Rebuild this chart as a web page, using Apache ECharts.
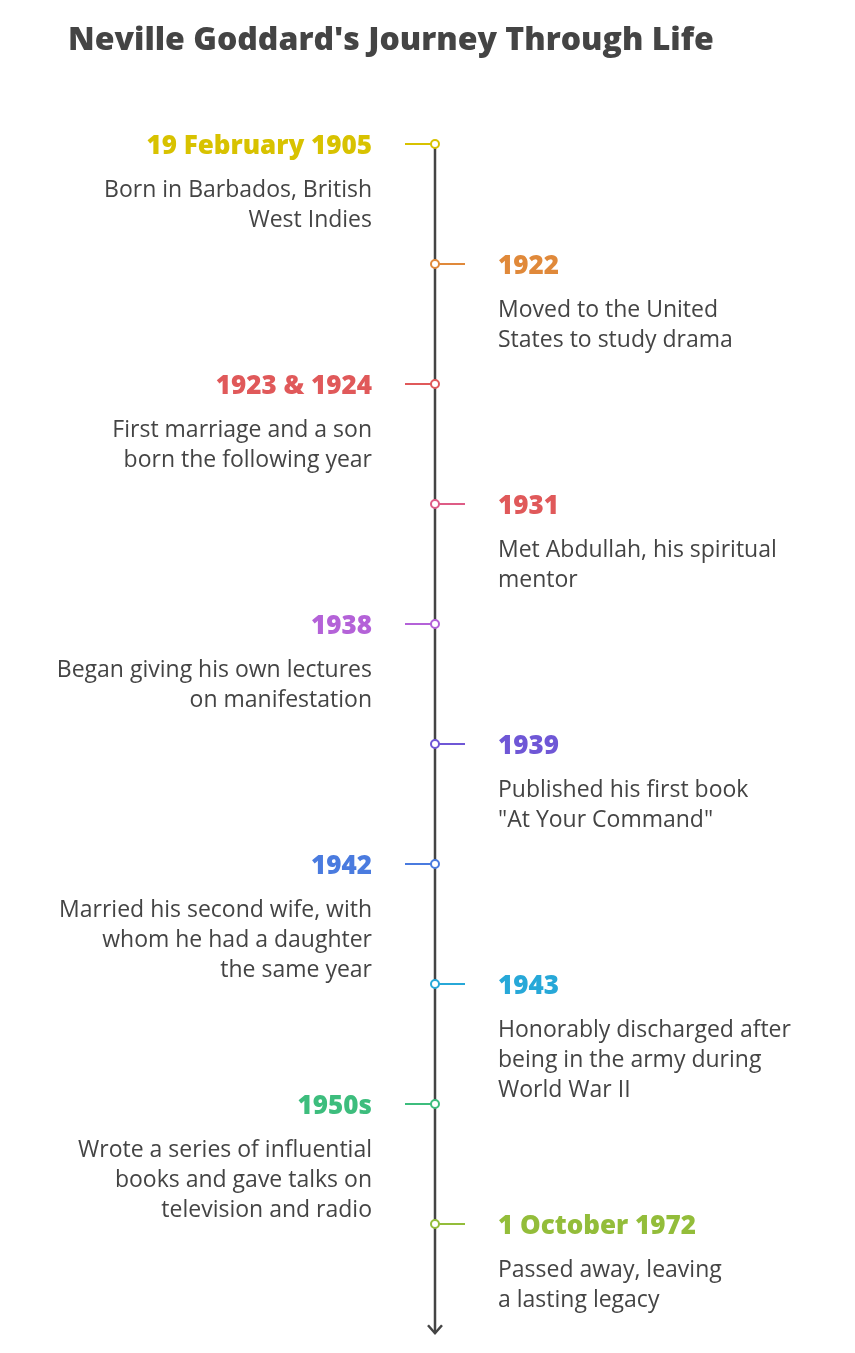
<!DOCTYPE html>
<html><head><meta charset="utf-8">
<script src="https://cdn.jsdelivr.net/npm/echarts@6/dist/echarts.min.js"></script>
<style>html,body{margin:0;background:#fff}#c{width:855px;height:1353px}</style>
</head><body><div id="c"></div>
<script>
const titleText = "Neville Goddard's Journey Through Life";
const dates = ["19 February 1905","1922","1923 & 1924","1931","1938","1939","1942","1943","1950s","1 October 1972"];
const descriptions = [
 "Born in Barbados, British\nWest Indies",
 "Moved to the United\nStates to study drama",
 "First marriage and a son\nborn the following year",
 "Met Abdullah, his spiritual\nmentor",
 "Began giving his own lectures\non manifestation",
 "Published his first book\n\"At Your Command\"",
 "Married his second wife, with\nwhom he had a daughter\nthe same year",
 "Honorably discharged after\nbeing in the army during\nWorld War II",
 "Wrote a series of influential\nbooks and gave talks on\ntelevision and radio",
 "Passed away, leaving\na lasting legacy"
];
const sides = ["left","right","left","right","left","right","left","right","left","right"];
const dateColors = ["#d8c200","#e0893a","#e0595a","#e0595a","#b462d8","#6f57d6","#4a7bdf","#27a8d8","#3dbd7d","#93bd3a"];
const markerColors = ["#d8c200","#e0893a","#e0595a","#de5c86","#b462d8","#6f57d6","#4a7bdf","#27a8d8","#3dbd7d","#93bd3a"];

const data = dates.map((d,i)=>[0,i]);
const chart = echarts.init(document.getElementById('c'));
chart.setOption({
  animation:false,
  title:{text:titleText,left:63,top:20,textStyle:{fontFamily:'"Open Sans", sans-serif',fontWeight:800,fontSize:32,color:'#444'}},
  grid:{left:15,right:0,top:0,bottom:0},
  xAxis:{type:'value',min:-1,max:1,show:false},
  yAxis:{type:'value',min:-1.2,max:10.075,inverse:true,show:false},
  series:[
   {type:'custom',data:[[0,0,9.91]],renderItem:(p,api)=>{
      const a=api.coord([0,api.value(1)]), b=api.coord([0,api.value(2)]);
      return {type:'group',children:[
        {type:'line',shape:{x1:a[0],y1:a[1],x2:b[0],y2:b[1]},style:{stroke:'#444',lineWidth:2.5}},
        {type:'polyline',shape:{points:[[b[0]-7,b[1]-8],[b[0],b[1]],[b[0]+7,b[1]-8]]},style:{stroke:'#444',lineWidth:2.5,fill:null}}
      ]};
   }},
   {type:'custom',data:data,z:5,renderItem:(p,api)=>{
      const i=p.dataIndex; const c=api.coord([api.value(0),api.value(1)]);
      const left=sides[i]==='left';
      const x1=left?c[0]-30:c[0], x2=left?c[0]:c[0]+30;
      const tx=left?c[0]-63:c[0]+63;
      return {type:'group',children:[
        {type:'line',shape:{x1:x1,y1:c[1],x2:x2,y2:c[1]},style:{stroke:markerColors[i],lineWidth:2}},
        {type:'circle',shape:{cx:c[0],cy:c[1],r:4},style:{fill:'#fff',stroke:markerColors[i],lineWidth:2}},
        {type:'text',x:tx,y:c[1]+3,style:{text:dates[i],fill:dateColors[i],font:'800 26px "Open Sans", sans-serif',align:left?'right':'left',verticalAlign:'middle'}},
        {type:'text',x:tx,y:c[1]+31,style:{text:descriptions[i],fill:'#444',font:'23px "Open Sans", sans-serif',lineHeight:30,align:left?'right':'left',verticalAlign:'top'}}
      ]};
   }}
  ]
});
</script></body></html>
